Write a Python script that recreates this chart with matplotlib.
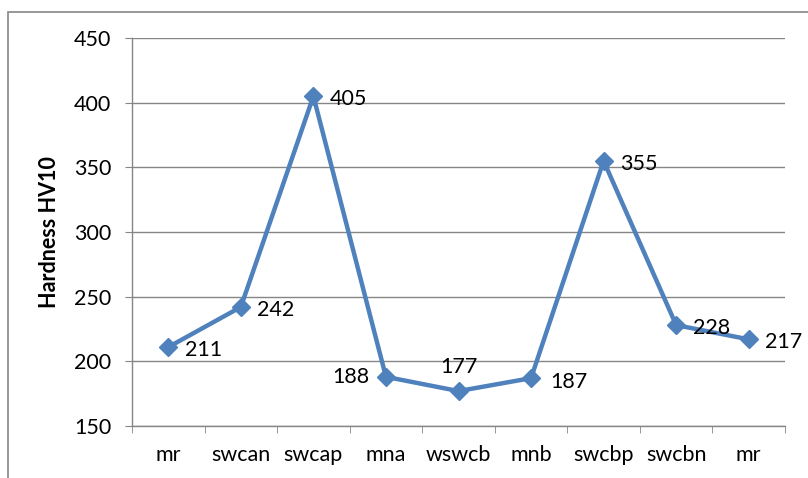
import matplotlib.pyplot as plt
from matplotlib.patches import Rectangle

# Chart data
categories = ['mr', 'swcan', 'swcap', 'mna', 'wswcb', 'mnb', 'swcbp', 'swcbn', 'mr']
hardness = [211, 242, 405, 188, 177, 187, 355, 228, 217]

# Data label placement (offset in points, horizontal alignment)
label_pos = [((12, -2), 'left'), ((12, -2), 'left'), ((12, -2), 'left'),
             ((-12, 0), 'right'), ((0, 17), 'center'), ((14, -3), 'left'),
             ((12, -2), 'left'), ((12, -2), 'left'), ((12, -2), 'left')]

plt.rcParams['font.family'] = ['Lato', 'DejaVu Sans']
grey = '#868686'
blue = '#4F81BD'
fs = 15.5

fig = plt.figure(figsize=(8.08, 4.78), dpi=100)
ax = fig.add_axes([132 / 808, 1 - 426 / 478, (785 - 132) / 808, (426 - 38) / 478])

# Chart frame
fig.patches.append(Rectangle((8 / 808, -0.1), 1.2, 1.1 - 12 / 478,
                             transform=fig.transFigure, fill=False,
                             edgecolor=grey, linewidth=1.2))

x = list(range(len(categories)))
ax.plot(x, hardness, color=blue, linewidth=3.2, marker='D', markersize=9.5,
        markerfacecolor=blue, markeredgecolor=blue, zorder=3)

for xi, v, (off, ha) in zip(x, hardness, label_pos):
    ax.annotate(str(v), (xi, v), xytext=off, textcoords='offset points',
                ha=ha, va='center', fontsize=fs)

ax.set_xlim(-0.5, len(categories) - 0.5)
ax.set_ylim(150, 450)
ax.set_yticks(range(150, 451, 50))
ax.set_xticks(x)
ax.set_xticklabels(categories, fontsize=fs)
ax.set_xticks([i - 0.5 for i in range(len(categories) + 1)], minor=True)
ax.tick_params(axis='x', which='major', length=0, pad=14)
ax.tick_params(axis='x', which='minor', length=5, color=grey, direction='out')
ax.tick_params(axis='y', length=5, color=grey, labelsize=fs, pad=10)

ax.grid(axis='y', color=grey, linewidth=1)
ax.set_axisbelow(True)
for s in ['top', 'right']:
    ax.spines[s].set_visible(False)
for s in ['left', 'bottom']:
    ax.spines[s].set_color(grey)
    ax.spines[s].set_linewidth(1)

ax.set_ylabel('Hardness HV10', fontsize=15.5, fontweight='bold', labelpad=10)

fig.savefig('out.png', dpi=100)
